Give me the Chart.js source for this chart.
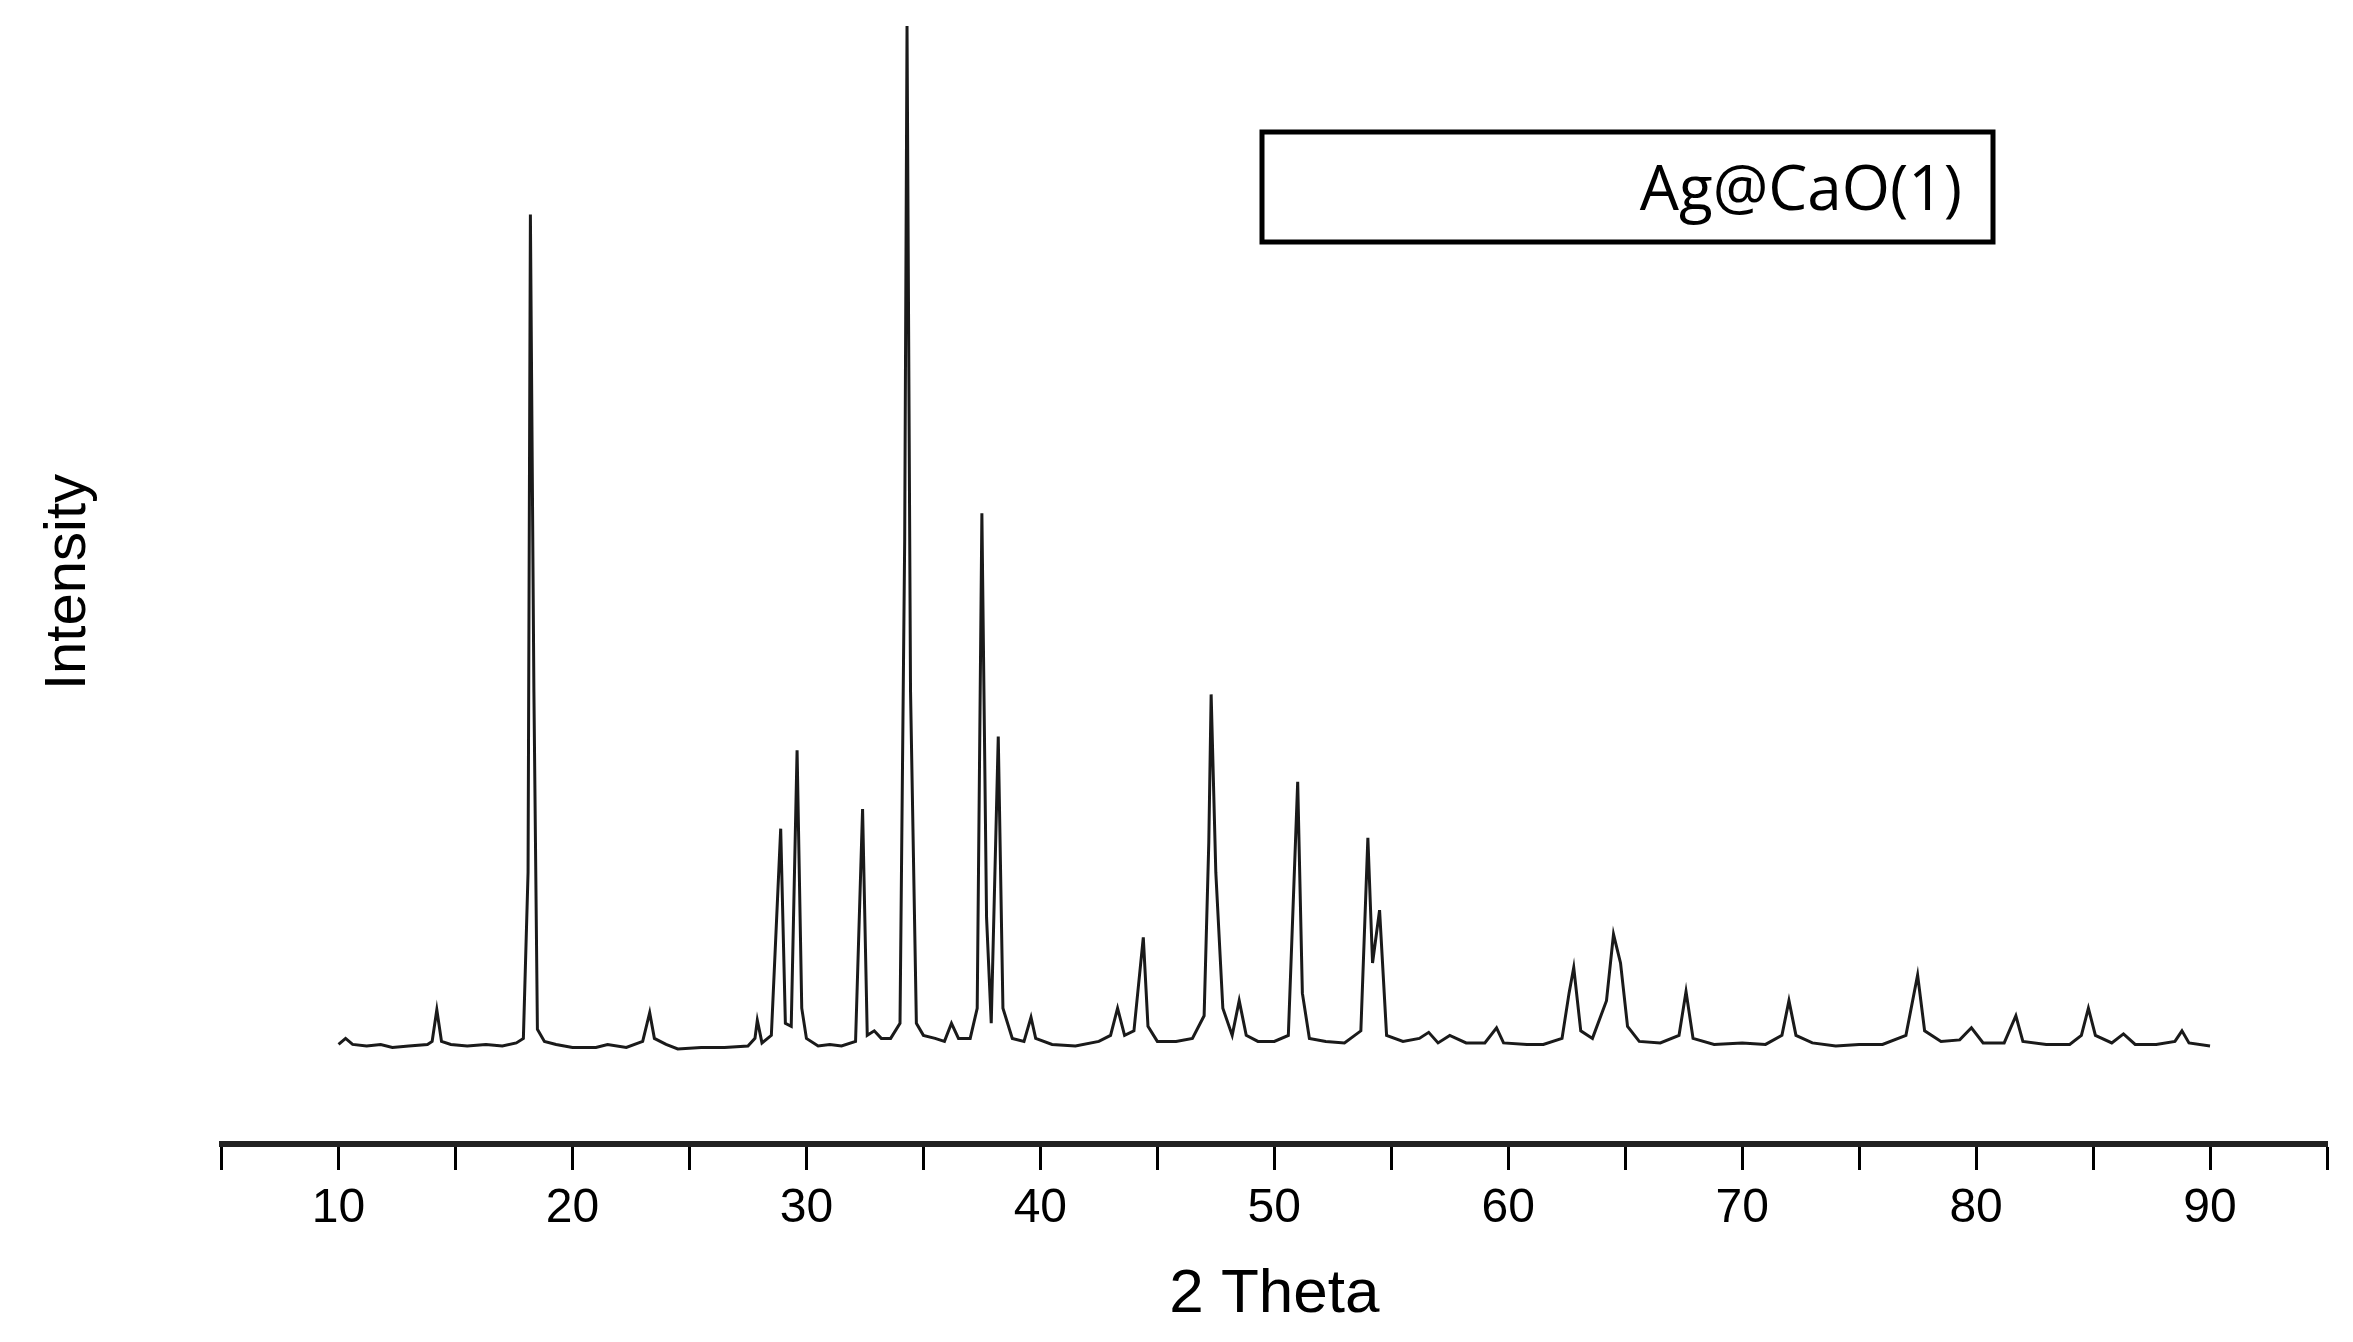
<!DOCTYPE html>
<html>
<head>
<meta charset="utf-8">
<script src="https://cdn.jsdelivr.net/npm/chart.js@4.4.0/dist/chart.umd.min.js"></script>
<style>
  html, body { margin: 0; padding: 0; background: #fff; }
  #wrap { width: 2353px; height: 1342px; }
</style>
</head>
<body>
<div id="wrap"><canvas id="chart"></canvas></div>
<script>
// 2 Theta positions and intensities
const theta = [10.0, 10.3, 10.6, 11.2, 11.8, 12.3, 13.0, 13.8, 14.0, 14.2, 14.4, 14.8, 15.5, 16.3, 17.0, 17.6, 17.9, 18.1, 18.2, 18.35, 18.5, 18.8, 19.3, 20.0, 21.0, 21.5, 22.3, 23.0, 23.3, 23.5, 24.0, 24.5, 25.5, 26.5, 27.5, 27.8, 27.9, 28.1, 28.5, 28.9, 29.1, 29.35, 29.6, 29.8, 30.0, 30.5, 31.0, 31.5, 32.1, 32.4, 32.6, 32.9, 33.2, 33.6, 34.0, 34.2, 34.3, 34.45, 34.7, 35.0, 35.5, 35.9, 36.2, 36.5, 37.0, 37.3, 37.5, 37.7, 37.9, 38.2, 38.4, 38.8, 39.3, 39.6, 39.8, 40.5, 41.5, 42.5, 43.0, 43.3, 43.6, 44.0, 44.4, 44.6, 45.0, 45.8, 46.5, 47.0, 47.2, 47.3, 47.5, 47.8, 48.2, 48.5, 48.8, 49.3, 50.0, 50.6, 51.0, 51.2, 51.5, 52.2, 53.0, 53.7, 54.0, 54.2, 54.5, 54.8, 55.5, 56.2, 56.6, 57.0, 57.5, 58.2, 59.0, 59.5, 59.8, 60.8, 61.5, 62.3, 62.6, 62.8, 63.1, 63.6, 64.2, 64.5, 64.8, 65.1, 65.6, 66.5, 67.3, 67.6, 67.9, 68.8, 70.0, 71.0, 71.7, 72.0, 72.3, 73.0, 74.0, 75.0, 76.0, 77.0, 77.5, 77.8, 78.5, 79.3, 79.8, 80.3, 81.2, 81.7, 82.0, 83.0, 84.0, 84.5, 84.8, 85.1, 85.8, 86.3, 86.8, 87.7, 88.5, 88.8, 89.1, 90.0];
const intensity = [66, 70, 66, 65, 66, 64, 65, 66, 68, 89, 68, 66, 65, 66, 65, 67, 70, 180, 616, 300, 76, 68, 66, 64, 64, 66, 64, 68, 87, 70, 66, 63, 64, 64, 65, 70, 82, 67, 72, 209, 80, 78, 261, 90, 70, 65, 66, 65, 68, 222, 72, 75, 70, 70, 80, 400, 741, 300, 80, 72, 70, 68, 80, 70, 70, 90, 418, 150, 80, 270, 90, 70, 68, 84, 70, 66, 65, 68, 72, 90, 72, 75, 137, 78, 68, 68, 70, 85, 200, 298, 180, 90, 72, 95, 72, 68, 68, 72, 240, 100, 70, 68, 67, 75, 203, 120, 155, 72, 68, 70, 74, 67, 72, 67, 67, 77, 67, 66, 66, 70, 100, 117, 75, 70, 95, 139, 120, 78, 68, 67, 72, 101, 70, 66, 67, 66, 72, 95, 72, 67, 65, 66, 66, 72, 112, 75, 68, 69, 77, 67, 67, 85, 68, 66, 66, 72, 90, 72, 67, 73, 66, 66, 68, 75, 67, 65];
const seriesName = 'Ag@CaO(1)';

const points = theta.map((t, i) => ({ x: t, y: intensity[i] }));

const legendBox = {
    id: 'legendBox',
    afterDraw(chart) {
        const c = chart.ctx;
        c.save();
        c.lineWidth = 5;
        c.strokeStyle = '#000';
        c.strokeRect(1262, 132, 731, 110);
        c.fillStyle = '#000';
        c.font = '62px "Open Sans", "Noto Sans", sans-serif';
        c.textAlign = 'right';
        c.textBaseline = 'middle';
        c.fillText(seriesName, 1962, 192);
        c.restore();
    }
};

const config = {
    type: 'line',
    data: {
        datasets: [{
            label: seriesName,
            data: points,
            borderColor: '#1a1a1a',
            borderWidth: 3,
            pointRadius: 0,
            tension: 0,
        }]
    },
    options: {
        responsive: true,
        maintainAspectRatio: false,
        animation: false,
        layout: { padding: { left: 30, right: 26, top: 20, bottom: 6 } },
        plugins: {
            legend: { display: false },
            tooltip: { enabled: false },
        },
        scales: {
            x: {
                type: 'linear',
                min: 5,
                max: 95,
                border: { display: true, color: '#222', width: 6 },
                grid: { drawOnChartArea: false, tickLength: 26, tickWidth: 3, tickColor: '#000' },
                ticks: {
                    stepSize: 5,
                    color: '#000',
                    font: { size: 48, family: 'Liberation Sans' },
                    padding: 10,
                    maxRotation: 0,
                    callback: v => (v % 10 === 0 ? v : ''),
                },
                title: {
                    display: true,
                    text: '2 Theta',
                    color: '#000',
                    font: { size: 62, family: 'Liberation Sans' },
                    padding: { top: 10 },
                },
            },
            y: {
                min: 0,
                max: 745,
                border: { display: false },
                grid: { display: false },
                ticks: { display: false },
                title: {
                    display: true,
                    text: 'Intensity',
                    color: '#000',
                    font: { size: 58, family: 'Liberation Sans' },
                    padding: { bottom: 110 },
                },
            },
        },
    },
    plugins: [legendBox],
};

new Chart(document.getElementById('chart').getContext('2d'), config);
</script>
</body>
</html>
